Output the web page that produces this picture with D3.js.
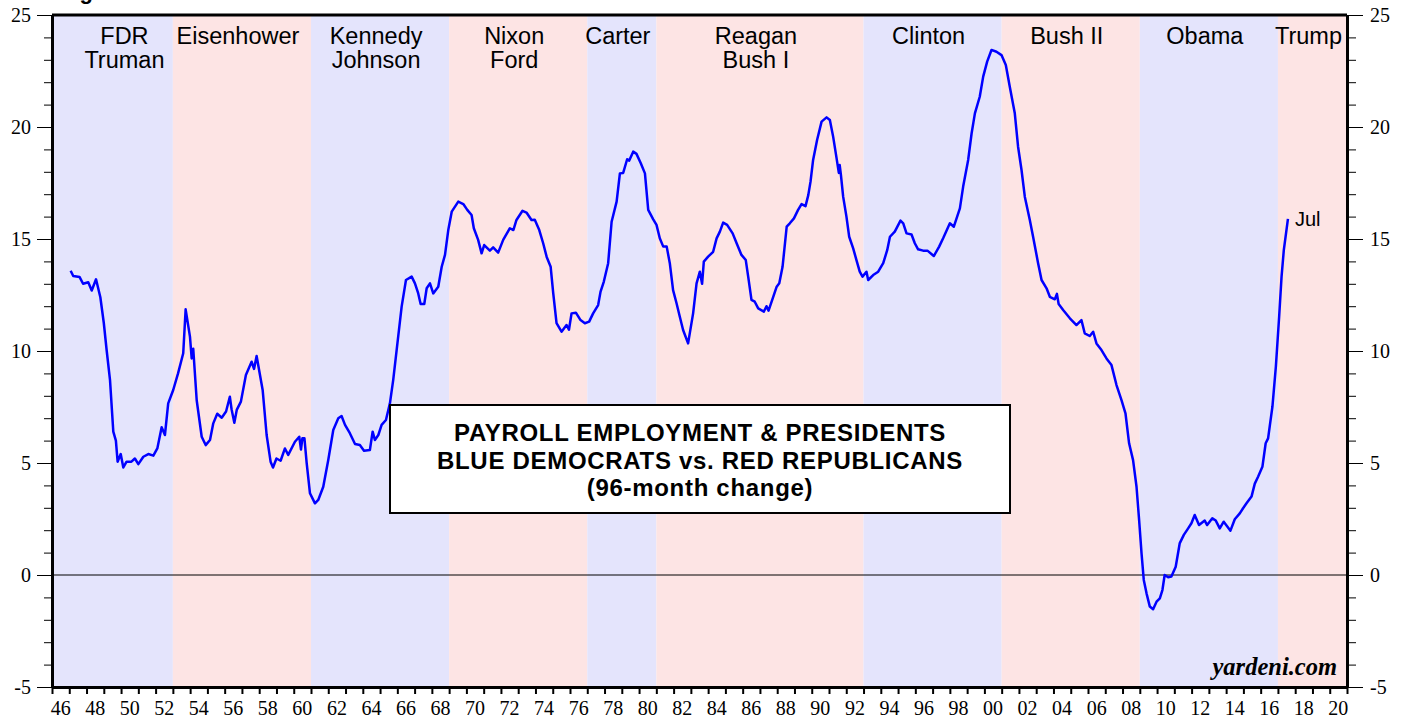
<!DOCTYPE html>
<html>
<head>
<meta charset="utf-8">
<script src="https://cdn.jsdelivr.net/npm/d3@7"></script>
<style>
  body { margin: 0; background: #fff; }
</style>
</head>
<body>
<div id="chart"></div>
<script>
// Presidential terms shown as background bands
const adminNames = [["FDR", "Truman"], ["Eisenhower"], ["Kennedy", "Johnson"], ["Nixon", "Ford"], ["Carter"],
  ["Reagan", "Bush I"], ["Clinton"], ["Bush II"], ["Obama"], ["Trump"]];
const adminStart = [1945, 1953, 1961, 1969, 1977, 1981, 1993, 2001, 2009, 2017];
const adminEnd = [1953, 1961, 1969, 1977, 1981, 1993, 2001, 2009, 2017, 2021];
const adminParty = ["D", "R", "D", "R", "D", "R", "D", "R", "D", "R"];

// Payroll employment, 96-month % change
const years = [
  1947.08, 1947.23, 1947.6, 1947.8, 1948.1, 1948.3, 1948.55, 1948.8, 1949.0, 1949.17, 1949.36, 1949.55, 1949.7, 1949.8, 1949.98,
  1950.13, 1950.32, 1950.6, 1950.8, 1951.0, 1951.29, 1951.58, 1951.87, 1952.1, 1952.35, 1952.54, 1952.73, 1953.02, 1953.3, 1953.6,
  1953.74, 1953.99, 1954.09, 1954.18, 1954.38, 1954.67, 1954.9, 1955.15, 1955.34, 1955.57, 1955.83, 1956.08, 1956.3, 1956.4, 1956.56,
  1956.7, 1956.94, 1957.23, 1957.56, 1957.7, 1957.85, 1958.2, 1958.43, 1958.66, 1958.8, 1959.0, 1959.24, 1959.49, 1959.68, 1960.07,
  1960.32, 1960.42, 1960.5, 1960.62, 1960.75, 1960.94, 1961.23, 1961.42, 1961.71, 1962.0, 1962.29, 1962.58, 1962.77, 1962.97, 1963.25,
  1963.55, 1963.83, 1964.07, 1964.41, 1964.57, 1964.7, 1964.9, 1965.09, 1965.34, 1965.57, 1965.76, 1965.96, 1966.25, 1966.5, 1966.83,
  1967.02, 1967.21, 1967.35, 1967.56, 1967.7, 1967.89, 1968.08, 1968.37, 1968.57, 1968.76, 1968.95, 1969.15, 1969.53, 1969.82, 1970.05,
  1970.3, 1970.43, 1970.68, 1970.88, 1971.03, 1971.36, 1971.55, 1971.84, 1972.13, 1972.52, 1972.72, 1972.9, 1973.25, 1973.48, 1973.77,
  1973.96, 1974.22, 1974.45, 1974.65, 1974.88, 1975.03, 1975.22, 1975.51, 1975.8, 1975.94, 1976.09, 1976.34, 1976.61, 1976.86, 1977.11,
  1977.34, 1977.63, 1977.77, 1977.96, 1978.21, 1978.41, 1978.7, 1978.89, 1979.08, 1979.31, 1979.43, 1979.66, 1979.85, 1980.1, 1980.34,
  1980.53, 1980.82, 1981.01, 1981.2, 1981.4, 1981.6, 1981.78, 1981.97, 1982.17, 1982.36, 1982.55, 1982.84, 1983.13, 1983.33, 1983.52,
  1983.65, 1983.75, 1984.0, 1984.29, 1984.49, 1984.68, 1984.87, 1985.1, 1985.42, 1985.65, 1985.93, 1986.18, 1986.32, 1986.51, 1986.7,
  1986.9, 1987.23, 1987.38, 1987.5, 1987.77, 1987.97, 1988.12, 1988.31, 1988.55, 1988.73, 1988.97, 1989.21, 1989.41, 1989.64, 1989.8,
  1989.93, 1990.08, 1990.31, 1990.57, 1990.86, 1991.05, 1991.24, 1991.44, 1991.57, 1991.62, 1991.69, 1991.82, 1992.01, 1992.17, 1992.4,
  1992.59, 1992.78, 1992.94, 1993.17, 1993.27, 1993.56, 1993.85, 1994.14, 1994.37, 1994.53, 1994.81, 1995.14, 1995.3, 1995.49, 1995.78,
  1995.97, 1996.16, 1996.45, 1996.7, 1997.07, 1997.38, 1997.61, 1998.0, 1998.23, 1998.58, 1998.77, 1999.06, 1999.26, 1999.45, 1999.73,
  1999.93, 2000.16, 2000.41, 2000.7, 2000.99, 2001.24, 2001.47, 2001.76, 2001.95, 2002.15, 2002.34, 2002.63, 2002.82, 2003.11, 2003.31,
  2003.6, 2003.79, 2004.08, 2004.2, 2004.3, 2004.56, 2004.95, 2005.33, 2005.62, 2005.81, 2006.1, 2006.3, 2006.49, 2006.78, 2007.07,
  2007.36, 2007.65, 2007.94, 2008.17, 2008.38, 2008.61, 2008.81, 2008.96, 2009.1, 2009.23, 2009.39, 2009.58, 2009.77, 2009.97, 2010.16,
  2010.31, 2010.44, 2010.64, 2010.83, 2011.08, 2011.31, 2011.55, 2011.8, 2011.99, 2012.18, 2012.43, 2012.76, 2012.9, 2013.2, 2013.4,
  2013.63, 2013.86, 2014.25, 2014.5, 2014.79, 2014.98, 2015.18, 2015.47, 2015.66, 2015.85, 2016.1, 2016.29, 2016.43, 2016.68, 2016.88,
  2017.07, 2017.21, 2017.34, 2017.58
];
const payrollChange = [
  13.58, 13.35, 13.3, 13.0, 13.07, 12.7, 13.2, 12.4, 11.25, 10.0, 8.7, 6.4, 6.0, 5.06, 5.4,
  4.8, 5.06, 5.06, 5.2, 4.95, 5.28, 5.4, 5.33, 5.65, 6.6, 6.25, 7.66, 8.26, 9.0, 9.9,
  11.86, 10.64, 9.67, 10.1, 7.8, 6.17, 5.8, 6.03, 6.77, 7.2, 7.02, 7.3, 7.96, 7.4, 6.8,
  7.37, 7.74, 8.93, 9.52, 9.2, 9.78, 8.26, 6.25, 5.06, 4.8, 5.2, 5.1, 5.65, 5.36, 5.95,
  6.17, 5.6, 6.1, 6.1, 4.99, 3.65, 3.2, 3.35, 3.94, 5.13, 6.47, 7.0, 7.1, 6.7, 6.33,
  5.85, 5.8, 5.55, 5.58, 6.4, 6.03, 6.25, 6.7, 6.92, 7.66, 8.7, 10.04, 11.98, 13.17, 13.32,
  13.02, 12.57, 12.1, 12.1, 12.8, 13.02, 12.57, 12.87, 13.76, 14.29, 15.4, 16.22, 16.67, 16.56, 16.3,
  16.07, 15.48, 14.96, 14.36, 14.73, 14.48, 14.63, 14.39, 14.96, 15.48, 15.4, 15.85, 16.26, 16.18, 15.85,
  15.86, 15.4, 14.8, 14.2, 13.76, 12.57, 11.24, 10.86, 11.16, 10.95, 11.68, 11.71, 11.38, 11.24, 11.31,
  11.68, 12.05, 12.65, 13.1, 13.92, 15.77, 16.67, 17.93, 17.95, 18.56, 18.5, 18.9, 18.8, 18.38, 17.93,
  16.3, 15.88, 15.63, 15.03, 14.66, 14.66, 13.92, 12.72, 12.13, 11.53, 10.94, 10.34, 11.68, 13.02, 13.54,
  13.0, 13.99, 14.21, 14.43, 15.03, 15.33, 15.73, 15.63, 15.25, 14.81, 14.29, 14.06, 13.32, 12.28, 12.2,
  11.9, 11.76, 12.0, 11.8, 12.42, 12.87, 13.02, 13.76, 15.55, 15.7, 15.92, 16.3, 16.56, 16.47, 16.96,
  17.56, 18.53, 19.42, 20.24, 20.43, 20.31, 19.57, 18.6, 17.95, 18.3, 17.86, 16.89, 16.0, 15.1, 14.58,
  14.06, 13.54, 13.32, 13.54, 13.17, 13.39, 13.54, 13.92, 14.5, 15.1, 15.33, 15.82, 15.7, 15.25, 15.2,
  14.81, 14.54, 14.48, 14.48, 14.24, 14.66, 15.03, 15.7, 15.55, 16.37, 17.34, 18.53, 19.72, 20.61, 21.35,
  22.25, 22.92, 23.44, 23.36, 23.21, 22.77, 21.8, 20.61, 19.12, 18.08, 16.89, 15.85, 15.1, 13.92, 13.17,
  12.8, 12.42, 12.31, 12.55, 12.1, 11.83, 11.46, 11.16, 11.38, 10.79, 10.67, 10.86, 10.34, 10.04, 9.67,
  9.37, 8.48, 7.81, 7.22, 5.88, 5.13, 3.94, 2.46, 0.97, -0.22, -0.82, -1.41, -1.53, -1.19, -1.04,
  -0.67, 0.0, -0.1, -0.07, 0.37, 1.41, 1.79, 2.08, 2.31, 2.68, 2.23, 2.43, 2.23, 2.53, 2.43,
  2.08, 2.38, 1.98, 2.49, 2.75, 2.98, 3.2, 3.5, 4.08, 4.39, 4.83, 5.88, 6.1, 7.51, 9.3,
  11.53, 13.32, 14.5, 15.9
];
const lastLabel = "Jul";

// Axis ticks
const yMajorTicks = [-5, 0, 5, 10, 15, 20, 25];
const yMinorTicks = d3.range(-5, 26, 1);
const xYearTicks = d3.range(1946, 2022, 1);
const xLabelYears = d3.range(1946, 2021, 2);

const titleLines = ["PAYROLL EMPLOYMENT & PRESIDENTS", "BLUE DEMOCRATS vs. RED REPUBLICANS", "(96-month change)"];

chart();

function chart() {
  let margin = { top: 15, right: 60, bottom: 34, left: 52 },
    width = 1407 - margin.left - margin.right,
    height = 721 - margin.top - margin.bottom;

  let blueBand = "#e4e4fc",
    redBand = "#fde4e4",
    serif = "'Liberation Serif', 'Times New Roman', serif",
    sans = "'Liberation Sans', Arial, Helvetica, sans-serif";

  let svg = d3
    .select("#chart")
    .append("svg")
    .attr("width", width + margin.left + margin.right)
    .attr("height", height + margin.top + margin.bottom)
    .append("g")
    .attr("transform", "translate(" + margin.left + "," + margin.top + ")");

  let x = d3.scaleLinear().domain([1946, 2021]).range([0, width]);
  let y = d3.scaleLinear().domain([-5, 25]).range([height, 0]);

  // Chart title, mostly cut off above the frame
  svg
    .append("text")
    .attr("x", 8)
    .attr("y", -16)
    .style("font-family", sans)
    .style("font-weight", "bold")
    .style("font-size", "22px")
    .text("Figure 1.");

  // Background bands per administration
  let admins = adminNames.map(function (n, i) {
    return { names: n, start: Math.max(adminStart[i], 1946), end: Math.min(adminEnd[i], 2021), party: adminParty[i] };
  });

  svg
    .selectAll(".band")
    .data(admins)
    .enter()
    .append("rect")
    .attr("class", "band")
    .attr("x", function (d) { return x(d.start); })
    .attr("y", 0)
    .attr("width", function (d) { return x(d.end) - x(d.start); })
    .attr("height", height)
    .attr("fill", function (d) { return d.party == "D" ? blueBand : redBand; });

  // Band labels
  let labels = svg
    .selectAll(".admin")
    .data(admins)
    .enter()
    .append("text")
    .attr("class", "admin")
    .attr("text-anchor", "middle")
    .style("font-family", sans)
    .style("font-size", "23.5px")
    .style("fill", "#000")
    .attr("transform", function (d, i) {
      let cx = (x(d.start) + x(d.end)) / 2 - 4;
      if (i == 0) cx += 16; // first term starts before the chart
      return "translate(" + cx + ",0)";
    });

  labels
    .selectAll("tspan")
    .data(function (d) { return d.names; })
    .enter()
    .append("tspan")
    .attr("x", 0)
    .attr("y", function (d, i) { return 29 + i * 24; })
    .text(function (d) { return d; });

  // Zero line
  svg
    .append("line")
    .attr("x1", 0)
    .attr("x2", width)
    .attr("y1", y(0))
    .attr("y2", y(0))
    .attr("stroke", "#000")
    .attr("stroke-width", 1);

  // Payroll line
  let series = years.map(function (yr, i) { return { year: yr, value: payrollChange[i] }; });
  let line = d3
    .line()
    .x(function (d) { return x(d.year); })
    .y(function (d) { return y(d.value); });

  svg
    .append("path")
    .datum(series)
    .attr("fill", "none")
    .attr("stroke", "#0000ff")
    .attr("stroke-width", 2.5)
    .attr("stroke-linejoin", "round")
    .attr("d", line);

  let last = series[series.length - 1];
  svg
    .append("text")
    .attr("x", x(last.year) + 7)
    .attr("y", y(last.value) + 7)
    .style("font-family", sans)
    .style("font-size", "20px")
    .text(lastLabel);

  // Title box
  let box = svg.append("g").attr("transform", "translate(" + (390 - margin.left) + "," + (405 - margin.top) + ")");
  box
    .append("rect")
    .attr("width", 620)
    .attr("height", 108)
    .attr("fill", "#fff")
    .attr("stroke", "#000")
    .attr("stroke-width", 2);
  box
    .selectAll("text")
    .data(titleLines)
    .enter()
    .append("text")
    .attr("x", 310)
    .attr("y", function (d, i) { return 36 + i * 27.5; })
    .attr("text-anchor", "middle")
    .style("font-family", sans)
    .style("font-weight", "bold")
    .style("font-size", "24px")
    .style("letter-spacing", "0.7px")
    .text(function (d) { return d; });

  // Watermark
  svg
    .append("text")
    .attr("x", width - 10)
    .attr("y", height - 12)
    .attr("text-anchor", "end")
    .style("font-family", serif)
    .style("font-weight", "bold")
    .style("font-style", "italic")
    .style("font-size", "24.5px")
    .text("yardeni.com");

  let plain = function (d) { return String(d); };

  // Left axis: minor then major ticks
  svg
    .append("g")
    .call(d3.axisLeft(y).tickValues(yMinorTicks).tickSize(8).tickFormat(""))
    .call(function (g) { g.select(".domain").remove(); });
  svg
    .append("g")
    .call(d3.axisLeft(y).tickValues(yMajorTicks).tickSize(15).tickPadding(6).tickSizeOuter(0).tickFormat(plain))
    .call(function (g) { g.select(".domain").attr("stroke-width", 3); })
    .attr("font-family", serif)
    .attr("font-size", 20);

  // Right axis
  svg
    .append("g")
    .attr("transform", "translate(" + width + ",0)")
    .call(d3.axisRight(y).tickValues(yMinorTicks).tickSize(9).tickFormat(""))
    .call(function (g) { g.select(".domain").remove(); });
  svg
    .append("g")
    .attr("transform", "translate(" + width + ",0)")
    .call(d3.axisRight(y).tickValues(yMajorTicks).tickSize(16).tickPadding(7).tickSizeOuter(0).tickFormat(plain))
    .call(function (g) { g.select(".domain").attr("stroke-width", 3); })
    .attr("font-family", serif)
    .attr("font-size", 20);

  // Top frame
  svg
    .append("line")
    .attr("x1", 0)
    .attr("x2", width)
    .attr("y1", 0)
    .attr("y2", 0)
    .attr("stroke", "#000")
    .attr("stroke-width", 3);

  // Bottom axis: yearly ticks, labels every two years centred in the year
  svg
    .append("g")
    .attr("transform", "translate(0," + height + ")")
    .call(d3.axisBottom(x).tickValues(xYearTicks).tickSize(7).tickFormat("").tickSizeOuter(0))
    .call(function (g) {
      g.select(".domain").attr("stroke-width", 3);
      g.selectAll(".tick line").attr("stroke-width", 2);
    });

  svg
    .append("g")
    .selectAll("text")
    .data(xLabelYears)
    .enter()
    .append("text")
    .attr("x", function (d) { return x(d + 0.5); })
    .attr("y", height + 28)
    .attr("text-anchor", "middle")
    .style("font-family", serif)
    .style("font-size", "20px")
    .text(function (d) { return d3.format("02d")(d % 100); });
}
</script>
</body>
</html>
